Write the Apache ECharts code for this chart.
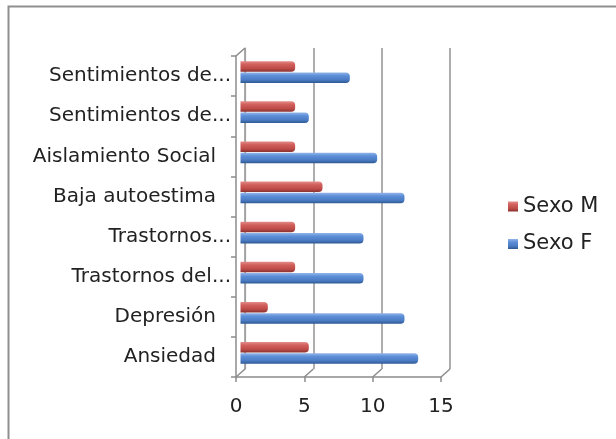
<!DOCTYPE html>
<html>
<head>
<meta charset="utf-8">
<script src="https://cdn.jsdelivr.net/npm/echarts@6/dist/echarts.min.js"></script>
<style>html,body{margin:0;padding:0;background:#fff}#c{width:616px;height:439px}</style>
</head>
<body>
<div id="c"></div>
<script>
const categories = ['Ansiedad', 'Depresión', 'Trastornos del...', 'Trastornos...', 'Baja autoestima', 'Aislamiento Social', 'Sentimientos de...', 'Sentimientos de...'];
const sexoF = [13, 12, 9, 9, 12, 10, 5, 8];
const sexoM = [5, 2, 4, 4, 6, 4, 4, 4];
const xTicks = [0, 5, 10, 15];

const FONT = 'DejaVu Sans';
const AX = '#8c8c8c';
const chart = echarts.init(document.getElementById('c'));

const front = {left: 236, top: 56, width: 205, height: 321};
const DX = 9, DY = -8;

function grad(stops) {
  return new echarts.graphic.LinearGradient(0, 0, 0, 1, stops);
}
const redFill = grad([{offset: 0, color: '#e38d8a'}, {offset: 0.3, color: '#d2615d'}, {offset: 0.7, color: '#bd4b48'}, {offset: 1, color: '#8a3330'}]);
const blueFill = grad([{offset: 0, color: '#92b4e8'}, {offset: 0.3, color: '#5d8fd8'}, {offset: 0.7, color: '#4a7bc3'}, {offset: 1, color: '#2e5891'}]);

const option = {
  animation: false,
  backgroundColor: '#fff',
  grid: [
    {left: front.left, top: front.top, width: front.width, height: front.height},
    {left: front.left + DX, top: front.top + DY, width: front.width, height: front.height},
    {left: front.left + DX / 2, top: front.top + DY / 2, width: front.width, height: front.height}
  ],
  xAxis: [
    {gridIndex: 0, type: 'value', min: 0, max: 15, interval: 5,
      axisLine: {show: true, lineStyle: {color: AX, width: 1.5}},
      axisTick: {show: true, length: 5, lineStyle: {color: AX, width: 1.5}},
      splitLine: {show: false},
      axisLabel: {margin: 20, color: '#222', fontFamily: FONT, fontSize: 20}},
    {gridIndex: 1, type: 'value', min: 0, max: 15, interval: 5,
      axisLine: {show: false}, axisTick: {show: false}, axisLabel: {show: false},
      splitLine: {show: true, lineStyle: {color: '#999', width: 1.6}}},
    {gridIndex: 2, type: 'value', min: 0, max: 15, interval: 5, show: false}
  ],
  yAxis: [
    {gridIndex: 0, type: 'category', data: categories, boundaryGap: true,
      axisLine: {show: true, lineStyle: {color: AX, width: 1.5}},
      axisTick: {show: true, length: 5, lineStyle: {color: AX, width: 1.5}},
      axisLabel: {margin: 5, color: '#222', fontFamily: FONT, fontSize: 20,
        formatter: function (v) { return /\.\.\.$/.test(v) ? v : '{p|' + v + '}'; },
        rich: {p: {padding: [0, 15, 0, 0], color: '#222', fontFamily: FONT, fontSize: 20}}}},
    {gridIndex: 1, type: 'category', data: categories,
      axisLine: {show: true, lineStyle: {color: '#a0a0a0', width: 1.2}},
      axisTick: {show: false}, axisLabel: {show: false}, splitLine: {show: false}},
    {gridIndex: 2, type: 'category', data: categories, show: false}
  ],
  legend: {
    orient: 'vertical', left: 508, top: 196, padding: 0,
    itemWidth: 10, itemHeight: 10, itemGap: 16.5, icon: 'rect',
    data: ['Sexo M', 'Sexo F'],
    textStyle: {fontFamily: FONT, fontSize: 21, color: '#222'}
  },
  series: [
    {name: 'Sexo M', type: 'bar', xAxisIndex: 2, yAxisIndex: 2, data: sexoM,
      barWidth: 10.5, barGap: '8%', color: '#c0504d',
      itemStyle: {color: redFill, borderRadius: [0, 4, 4, 0]}},
    {name: 'Sexo F', type: 'bar', xAxisIndex: 2, yAxisIndex: 2, data: sexoF,
      barWidth: 10.5, barGap: '8%', color: '#4f81bd',
      itemStyle: {color: blueFill, borderRadius: [0, 4, 4, 0]}}
  ]
};
chart.setOption(option);

// 3D floor / corner connectors from front axis to back wall
const els = [{
  type: 'rect', shape: {x: 8.5, y: 6.5, width: 800, height: 800},
  style: {fill: 'none', stroke: '#8f8f8f', lineWidth: 2}, silent: true
}];
xTicks.forEach(function (t) {
  const p = chart.convertToPixel({xAxisIndex: 0}, t);
  const y = front.top + front.height;
  els.push({type: 'line', shape: {x1: p, y1: y, x2: p + DX, y2: y + DY},
    style: {stroke: AX, lineWidth: 1.5}, silent: true});
});
els.push({type: 'line', shape: {x1: front.left, y1: front.top, x2: front.left + DX, y2: front.top + DY},
  style: {stroke: AX, lineWidth: 1.5}, silent: true});
chart.setOption({graphic: {elements: els}});
</script>
</body>
</html>
